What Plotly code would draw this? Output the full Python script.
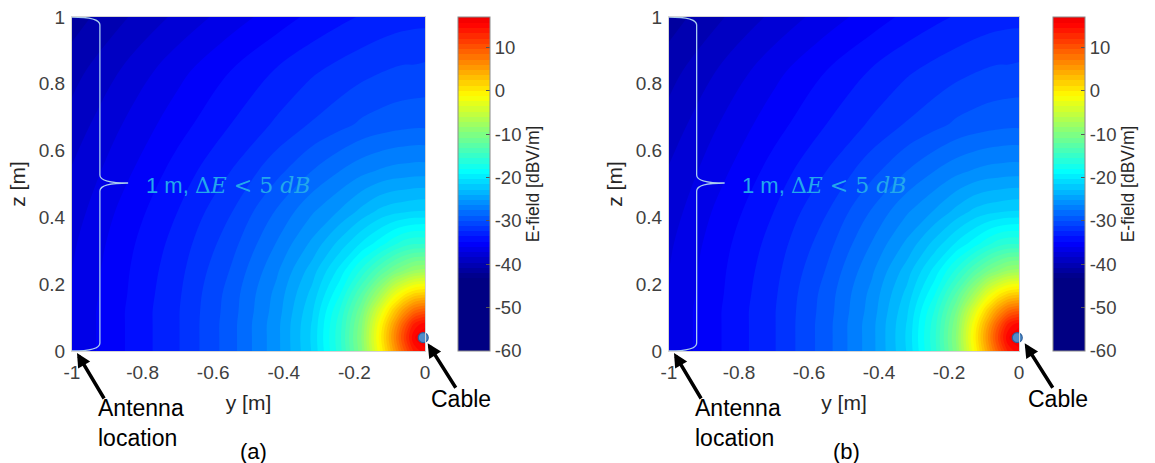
import plotly.graph_objects as go

# ---------------- data ----------------
# grid positions (m): y across, z up
y_m = [-1.0, -0.85, -0.7, -0.55, -0.42, -0.32, -0.24, -0.18, -0.13, -0.09, -0.06, -0.03, 0.0]
z_m = [0.0, 0.04, 0.08, 0.12, 0.17, 0.24, 0.32, 0.42, 0.54, 0.68, 0.84, 1.0]

# E-field (dBV/m), one row per z value, one column per y value
efield_a = [
    [-37.0, -34.8, -32.5, -29.3, -25.6, -21.5, -16.0, -9.9, -1.7, 4.7, 9.4, 13.6, 15.1],
    [-37.0, -34.8, -32.5, -29.3, -25.6, -21.4, -15.8, -9.5, -1.0, 5.8, 11.0, 15.5, 17.0],
    [-37.0, -34.8, -32.5, -29.3, -25.6, -21.5, -16.0, -9.9, -1.7, 4.7, 9.4, 13.6, 15.1],
    [-37.0, -34.8, -32.5, -29.4, -25.8, -21.8, -16.6, -10.9, -3.8, 1.9, 5.6, 8.5, 9.6],
    [-37.1, -34.9, -32.6, -29.5, -26.0, -22.4, -18.0, -13.0, -7.9, -3.1, -0.3, 1.6, 2.2],
    [-37.2, -35.0, -32.8, -29.9, -26.6, -23.4, -19.9, -16.5, -13.3, -10.9, -9.5, -8.2, -7.8],
    [-37.4, -35.2, -33.1, -30.5, -27.5, -24.9, -22.3, -20.2, -18.6, -17.1, -16.1, -15.6, -15.6],
    [-37.8, -35.6, -33.6, -31.3, -28.7, -26.6, -25.1, -23.7, -22.6, -22.1, -21.9, -21.7, -21.6],
    [-38.3, -36.3, -34.3, -32.4, -30.4, -28.8, -27.6, -26.8, -26.3, -26.0, -25.9, -25.8, -25.8],
    [-39.1, -37.1, -35.3, -33.6, -32.2, -31.1, -30.4, -29.8, -29.5, -29.3, -29.2, -29.1, -29.1],
    [-40.1, -38.2, -36.4, -34.8, -33.5, -32.6, -32.0, -31.6, -31.3, -31.1, -31.0, -31.0, -30.9],
    [-41.4, -39.7, -38.1, -36.6, -35.4, -34.5, -33.9, -33.5, -33.2, -33.0, -32.9, -32.8, -32.8],
]
# panel (b) shows the same field
efield_b = [row[:] for row in efield_a]

cable_y = [-0.005]
cable_z = [0.04]

x_tickvals = [-1, -0.8, -0.6, -0.4, -0.2, 0]
x_ticktext = ["-1", "-0.8", "-0.6", "-0.4", "-0.2", "0"]
z_tickvals = [0, 0.2, 0.4, 0.6, 0.8, 1]
z_ticktext = ["0", "0.2", "0.4", "0.6", "0.8", "1"]
cb_tickvals = [-60, -50, -40, -30, -20, -10, 0, 10]
cb_ticktext = ["-60", "-50", "-40", "-30", "-20", "-10", "0", "10"]
zmin, zmax = -60, 17

# colour map anchors (dB -> colour), jet-like as on the colour bar
cmap_db = [-60, -43.2, -35, -18.6, -9.8, -1, 15.5, 17]
cmap_col = ["rgb(0,0,131)", "rgb(0,0,131)", "rgb(0,0,255)", "rgb(0,255,255)",
            "rgb(128,255,128)", "rgb(255,255,0)", "rgb(255,0,0)", "rgb(240,0,0)"]
colorscale = [[(v - zmin) / (zmax - zmin), c] for v, c in zip(cmap_db, cmap_col)]

# ---------------- layout ----------------
W, H = 1155, 463
TOP, BOT = 17, 351
FONT = "Arial, Liberation Sans, sans-serif"
TICKC = "#404040"

panels = [
    dict(field=efield_a, x0=72, x1=425, cb=458, tag="(a)", sfx=""),
    dict(field=efield_b, x0=669, x1=1019, cb=1053, tag="(b)", sfx="2"),
]

fig = go.Figure()
annotations = []
shapes = []

def px(xp):
    return xp / W

def py(yp):
    return 1 - yp / H

for i, p in enumerate(panels):
    xa = "x" + p["sfx"]
    ya = "y" + p["sfx"]
    fig.add_trace(go.Contour(
        x=y_m, y=z_m, z=p["field"], xaxis=xa, yaxis=ya,
        zmin=zmin, zmax=zmax, zauto=False,
        colorscale=colorscale,
        contours=dict(start=zmin, end=zmax, size=1.2, coloring="fill", showlines=False),
        line=dict(width=0),
        colorbar=dict(
            x=px(p["cb"]), xanchor="left", xref="paper",
            y=py(BOT), yanchor="bottom", yref="paper",
            len=(BOT - TOP) / H, lenmode="fraction",
            thickness=32, thicknessmode="pixels",
            xpad=0, ypad=0,
            outlinecolor="#8a8a8a", outlinewidth=1,
            tickmode="array", tickvals=cb_tickvals, ticktext=cb_ticktext,
            ticks="inside", ticklen=4, tickcolor="#555555",
            tickfont=dict(family=FONT, size=18.5, color=TICKC),
            title=dict(text="E-field [dBV/m]", side="right",
                       font=dict(family=FONT, size=17.5, color="#262626")),
        ),
        showscale=True,
        hoverinfo="skip",
    ))
    fig.add_trace(go.Scatter(
        x=cable_y, y=cable_z, xaxis=xa, yaxis=ya, mode="markers",
        marker=dict(size=10, color="rgb(80,140,200)", line=dict(color="rgb(45,95,155)", width=1.2)),
        cliponaxis=False, showlegend=False, hoverinfo="skip",
    ))

    ax_common = dict(
        showgrid=False, zeroline=False, showline=True, mirror=True,
        linecolor="#d4d4d4", linewidth=1, automargin=False,
        ticks="outside", tickcolor="rgba(0,0,0,0)",
        tickfont=dict(family=FONT, size=19, color=TICKC),
    )
    fig.layout[("xaxis" + p["sfx"])] = dict(
        ax_common, domain=[px(p["x0"]), px(p["x1"])], range=[-1, 0],
        anchor=ya, tickmode="array", tickvals=x_tickvals, ticktext=x_ticktext,
        ticklen=4,
        title=dict(text="y [m]", standoff=13, font=dict(family=FONT, size=21, color="#262626")),
    )
    fig.layout[("yaxis" + p["sfx"])] = dict(
        ax_common, domain=[py(BOT), py(TOP)], range=[0, 1],
        anchor=xa, tickmode="array", tickvals=z_tickvals, ticktext=z_ticktext,
        ticklen=2,
        title=dict(text="z [m]", standoff=7, font=dict(family=FONT, size=21, color="#262626")),
    )

    # curly brace along the antenna column
    xb, xtip, xa0 = -0.921, -0.841, -1.0
    zt, zb, zmid, c = 1.0, 0.0, 0.503, 0.024
    path = (f"M {xa0},{zt} Q {xb},{zt} {xb},{zt - c} L {xb},{zmid + c} "
            f"Q {xb},{zmid} {xtip},{zmid} Q {xb},{zmid} {xb},{zmid - c} "
            f"L {xb},{zb + c} Q {xb},{zb} {xa0},{zb}")
    shapes.append(dict(type="path", path=path, xref=xa, yref=ya,
                       line=dict(color="rgb(170,205,238)", width=1.3)))

    annotations.append(dict(
        x=-0.796, y=0.497, xref=xa, yref=ya, xanchor="left", yanchor="middle",
        showarrow=False,
        text=("1 m, <span style='font-family:\"DejaVu Serif\", serif'>Δ<i>E</i> &lt; 5 <i>dB</i></span>"),
        font=dict(family=FONT, size=22, color="rgb(35,168,236)"),
    ))

    off = p["x0"] - 72
    # arrows
    annotations.append(dict(x=px(427.7 + off), y=py(343.3), xref="paper", yref="paper",
                            text="", showarrow=True, ax=29, ay=46, axref="pixel", ayref="pixel",
                            arrowhead=2, arrowsize=0.8, arrowwidth=3.5, arrowcolor="black",
                            standoff=0))
    annotations.append(dict(x=px(77 + off), y=py(353), xref="paper", yref="paper",
                            text="", showarrow=True, ax=28, ay=47, axref="pixel", ayref="pixel",
                            arrowhead=2, arrowsize=0.8, arrowwidth=3.5, arrowcolor="black",
                            standoff=0))
    annotations.append(dict(x=px(461 + off), y=py(399), xref="paper", yref="paper",
                            text="Cable", showarrow=False, xanchor="center", yanchor="middle",
                            font=dict(family=FONT, size=23, color="black")))
    annotations.append(dict(x=px(96 + off), y=py(423), xref="paper", yref="paper",
                            text="Antenna<br>location", showarrow=False, align="left",
                            xanchor="left", yanchor="middle",
                            font=dict(family=FONT, size=23, color="black")))
    tagx = 253.5 if i == 0 else 846
    annotations.append(dict(x=px(tagx), y=py(451), xref="paper", yref="paper",
                            text=p["tag"], showarrow=False, xanchor="center", yanchor="middle",
                            font=dict(family=FONT, size=22, color="black")))

fig.update_layout(
    width=W, height=H, margin=dict(l=0, r=0, t=0, b=0, autoexpand=False),
    paper_bgcolor="white", plot_bgcolor="white",
    showlegend=False, annotations=annotations, shapes=shapes,
    font=dict(family=FONT),
)

fig.write_html("out.html")
